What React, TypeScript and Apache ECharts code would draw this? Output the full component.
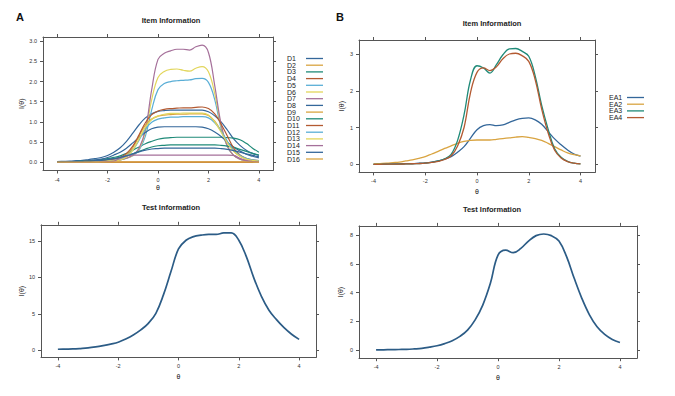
import React, { useEffect, useRef } from "react";
import * as echarts from "echarts";

// theta grid shared by all curves
const thetas = [-4, -3.75, -3.5, -3.25, -3, -2.75, -2.5, -2.25, -2, -1.75, -1.5, -1.25, -1, -0.75, -0.5, -0.25, 0, 0.25, 0.5, 0.75, 1, 1.25, 1.5, 1.75, 2, 2.25, 2.5, 2.75, 3, 3.25, 3.5, 3.75, 4];

const xTicks = [-4, -2, 0, 2, 4];
const yTicksA1 = [0, 0.5, 1, 1.5, 2, 2.5, 3];
const yTicksB1 = [0, 1, 2, 3];
const yTicksA2 = [0, 5, 10, 15];
const yTicksB2 = [0, 2, 4, 6, 8];

// Panel A – item information (D1..D16)
const D1 = [0.02, 0.025, 0.03, 0.04, 0.05, 0.07, 0.09, 0.12, 0.17, 0.25, 0.36, 0.52, 0.72, 0.93, 1.1, 1.2, 1.26, 1.28, 1.29, 1.29, 1.29, 1.29, 1.29, 1.29, 1.25, 1.15, 1.0, 0.8, 0.58, 0.42, 0.3, 0.22, 0.17];
const D2 = [0.01, 0.01, 0.01, 0.01, 0.01, 0.01, 0.01, 0.01, 0.01, 0.01, 0.01, 0.01, 0.01, 0.01, 0.01, 0.01, 0.01, 0.01, 0.01, 0.01, 0.01, 0.01, 0.01, 0.01, 0.01, 0.01, 0.01, 0.01, 0.01, 0.01, 0.01, 0.01, 0.01];
const D3 = [0.01, 0.012, 0.015, 0.02, 0.03, 0.035, 0.05, 0.07, 0.09, 0.12, 0.16, 0.22, 0.3, 0.38, 0.46, 0.52, 0.57, 0.6, 0.61, 0.62, 0.62, 0.62, 0.62, 0.62, 0.62, 0.62, 0.62, 0.61, 0.6, 0.56, 0.47, 0.35, 0.25];
const D4 = [0, 0, 0, 0, 0, 0, 0, 0, 0, 0, 0, 0, 0, 0, 0, 0, 0, 0, 0, 0, 0, 0, 0, 0, 0, 0, 0, 0, 0, 0, 0, 0, 0];
const D5 = [0, 0, 0, 0, 0.005, 0.01, 0.01, 0.02, 0.03, 0.04, 0.06, 0.1, 0.16, 0.3, 0.65, 1.3, 1.8, 1.95, 2.0, 2.02, 2.03, 2.04, 2.07, 2.08, 1.98, 1.55, 0.85, 0.4, 0.17, 0.08, 0.04, 0.02, 0.01];
const D6 = [0, 0, 0, 0, 0.005, 0.01, 0.01, 0.02, 0.03, 0.04, 0.06, 0.1, 0.17, 0.33, 0.75, 1.55, 2.1, 2.25, 2.3, 2.31, 2.28, 2.26, 2.33, 2.37, 2.24, 1.7, 0.9, 0.4, 0.17, 0.08, 0.04, 0.02, 0.01];
const D7 = [0, 0, 0, 0, 0.005, 0.01, 0.01, 0.02, 0.03, 0.04, 0.06, 0.1, 0.18, 0.35, 0.8, 1.8, 2.55, 2.7, 2.76, 2.8, 2.8, 2.78, 2.86, 2.9, 2.72, 1.9, 0.95, 0.4, 0.17, 0.08, 0.04, 0.02, 0.01];
const D8 = [0.01, 0.012, 0.015, 0.02, 0.03, 0.04, 0.06, 0.08, 0.12, 0.18, 0.25, 0.35, 0.48, 0.62, 0.74, 0.83, 0.87, 0.88, 0.88, 0.88, 0.88, 0.88, 0.88, 0.87, 0.83, 0.75, 0.64, 0.5, 0.38, 0.28, 0.2, 0.15, 0.11];
const D9 = [0, 0, 0, 0.005, 0.01, 0.01, 0.015, 0.02, 0.03, 0.05, 0.09, 0.18, 0.36, 0.65, 0.92, 1.07, 1.14, 1.17, 1.18, 1.19, 1.19, 1.2, 1.2, 1.2, 1.16, 1.02, 0.78, 0.5, 0.28, 0.15, 0.08, 0.05, 0.03];
const D10 = [0.01, 0.012, 0.015, 0.02, 0.025, 0.03, 0.04, 0.05, 0.07, 0.09, 0.12, 0.16, 0.21, 0.27, 0.33, 0.38, 0.41, 0.42, 0.43, 0.43, 0.43, 0.43, 0.43, 0.43, 0.43, 0.43, 0.42, 0.4, 0.37, 0.32, 0.27, 0.22, 0.18];
const D11 = [0.01, 0.01, 0.01, 0.015, 0.02, 0.025, 0.03, 0.04, 0.05, 0.08, 0.12, 0.22, 0.4, 0.68, 0.98, 1.18, 1.27, 1.31, 1.33, 1.34, 1.35, 1.35, 1.36, 1.37, 1.33, 1.2, 0.95, 0.65, 0.35, 0.18, 0.1, 0.06, 0.04];
const D12 = [0, 0, 0, 0.005, 0.01, 0.01, 0.015, 0.02, 0.03, 0.05, 0.08, 0.15, 0.3, 0.55, 0.82, 0.99, 1.07, 1.1, 1.12, 1.12, 1.13, 1.13, 1.13, 1.13, 1.1, 0.98, 0.78, 0.52, 0.3, 0.17, 0.1, 0.06, 0.04];
const D13 = [0, 0, 0, 0, 0.005, 0.01, 0.01, 0.02, 0.03, 0.04, 0.06, 0.13, 0.3, 0.58, 0.87, 1.06, 1.15, 1.19, 1.21, 1.21, 1.22, 1.22, 1.22, 1.22, 1.17, 1.0, 0.75, 0.48, 0.27, 0.15, 0.08, 0.05, 0.03];
const D14 = [0, 0, 0, 0, 0, 0, 0.005, 0.01, 0.015, 0.03, 0.1, 0.16, 0.18, 0.18, 0.18, 0.18, 0.18, 0.18, 0.18, 0.18, 0.18, 0.18, 0.18, 0.18, 0.18, 0.18, 0.18, 0.18, 0.17, 0.1, 0.04, 0.02, 0.01];
const D15 = [0.01, 0.012, 0.015, 0.02, 0.025, 0.03, 0.04, 0.05, 0.07, 0.09, 0.12, 0.16, 0.21, 0.26, 0.3, 0.33, 0.34, 0.35, 0.35, 0.35, 0.35, 0.35, 0.35, 0.35, 0.35, 0.35, 0.34, 0.32, 0.29, 0.25, 0.21, 0.17, 0.14];
const D16 = [0.005, 0.005, 0.005, 0.005, 0.005, 0.005, 0.005, 0.005, 0.005, 0.005, 0.005, 0.005, 0.005, 0.005, 0.005, 0.005, 0.005, 0.005, 0.005, 0.005, 0.005, 0.005, 0.005, 0.005, 0.005, 0.005, 0.005, 0.005, 0.005, 0.005, 0.005, 0.005, 0.005];

// Panel B – item information (EA1..EA4)
const EA1 = [0, 0.005, 0.008, 0.01, 0.012, 0.016, 0.02, 0.03, 0.04, 0.06, 0.09, 0.14, 0.21, 0.33, 0.48, 0.71, 0.94, 1.05, 1.08, 1.05, 1.07, 1.14, 1.21, 1.25, 1.26, 1.21, 1.09, 0.89, 0.69, 0.53, 0.39, 0.28, 0.22];
const EA2 = [0.01, 0.02, 0.03, 0.045, 0.06, 0.09, 0.12, 0.16, 0.21, 0.28, 0.35, 0.43, 0.5, 0.57, 0.62, 0.65, 0.66, 0.66, 0.66, 0.68, 0.7, 0.72, 0.74, 0.75, 0.73, 0.7, 0.65, 0.57, 0.48, 0.39, 0.31, 0.26, 0.23];
const EA3 = [0, 0, 0.003, 0.004, 0.005, 0.01, 0.015, 0.02, 0.03, 0.05, 0.09, 0.15, 0.27, 0.65, 1.35, 2.3, 2.68, 2.62, 2.48, 2.71, 2.98, 3.14, 3.15, 3.07, 2.94, 2.4, 1.6, 0.95, 0.42, 0.19, 0.08, 0.03, 0.01];
const EA4 = [0, 0, 0.003, 0.004, 0.005, 0.01, 0.015, 0.02, 0.03, 0.05, 0.08, 0.13, 0.23, 0.5, 1.0, 1.95, 2.5, 2.62, 2.55, 2.65, 2.87, 3.0, 3.02, 2.95, 2.8, 2.3, 1.5, 0.85, 0.38, 0.17, 0.07, 0.03, 0.01];

// Test information
const testA = [0.14, 0.16, 0.18, 0.24, 0.32, 0.46, 0.64, 0.85, 1.1, 1.55, 2.1, 2.8, 3.7, 5.07, 7.6, 10.8, 13.9, 15.1, 15.6, 15.8, 15.9, 15.9, 16.1, 16.1, 15.1, 12.85, 9.9, 7.4, 5.5, 4.2, 3.1, 2.2, 1.5];
const testB = [0.01, 0.02, 0.03, 0.04, 0.05, 0.08, 0.12, 0.2, 0.3, 0.45, 0.65, 0.95, 1.39, 2.1, 3.13, 4.64, 6.6, 6.95, 6.77, 7.07, 7.58, 7.96, 8.07, 7.96, 7.58, 6.5, 4.99, 3.6, 2.45, 1.62, 1.09, 0.74, 0.53];

const itemNamesA = ["D1", "D2", "D3", "D4", "D5", "D6", "D7", "D8", "D9", "D10", "D11", "D12", "D13", "D14", "D15", "D16"];
const itemValuesA = [D1, D2, D3, D4, D5, D6, D7, D8, D9, D10, D11, D12, D13, D14, D15, D16];
const itemNamesB = ["EA1", "EA2", "EA3", "EA4"];
const itemValuesB = [EA1, EA2, EA3, EA4];

const palette = ["#34679A", "#D9A441", "#1F8A78", "#B35A32", "#5AAED6", "#E2D65C", "#A5709A"];
const testColor = "#2C5C86";
const FONT = "'Liberation Sans', Arial, sans-serif";

export default function App() {
  const ref = useRef<HTMLDivElement>(null);
  useEffect(() => {
    if (!ref.current) return;
    const chart = echarts.init(ref.current, null, { renderer: "svg" });

    const grids = [
      { left: 43, top: 37, width: 230, height: 133.5 },
      { left: 359, top: 40, width: 236, height: 132.4 },
      { left: 41, top: 224.8, width: 275, height: 132.6 },
      { left: 359, top: 225.9, width: 278, height: 132.3 },
    ];
    const yRanges = [
      { min: -0.203, max: 3.103, ticks: yTicksA1, fmt: (v: number) => v.toFixed(1), gap: 18 },
      { min: -0.221, max: 3.381, ticks: yTicksB1, fmt: (v: number) => String(v), gap: 14 },
      { min: -0.977, max: 17.22, ticks: yTicksA2, fmt: (v: number) => String(v), gap: 16.5 },
      { min: -0.565, max: 8.635, ticks: yTicksB2, fmt: (v: number) => String(v), gap: 15 },
    ];
    const xNameGaps = [13.5, 15.5, 16, 15.5];
    const axisColor = "#555";

    const xAxis: any[] = [];
    const yAxis: any[] = [];
    grids.forEach((g, i) => {
      ["bottom", "top"].forEach((pos) => {
        xAxis.push({
          type: "value",
          gridIndex: i,
          position: pos,
          min: -4.56,
          max: 4.56,
          splitLine: { show: false },
          axisLine: { show: true, onZero: false, lineStyle: { color: axisColor, width: 1 } },
          axisTick: { show: true, inside: false, length: 3, customValues: xTicks, lineStyle: { color: axisColor } },
          axisLabel: { show: pos === "bottom", customValues: xTicks, fontSize: 5.5, margin: 6, color: "#333", fontFamily: FONT },
          name: pos === "bottom" ? "θ" : "",
          nameLocation: "middle",
          nameGap: xNameGaps[i],
          nameTextStyle: { fontSize: 7, color: "#222", fontFamily: FONT },
        });
      });
      const yr = yRanges[i];
      ["left", "right"].forEach((pos) => {
        yAxis.push({
          type: "value",
          gridIndex: i,
          position: pos,
          min: yr.min,
          max: yr.max,
          splitLine: { show: false },
          axisLine: { show: true, onZero: false, lineStyle: { color: axisColor, width: 1 } },
          axisTick: { show: true, inside: false, length: 3, customValues: yr.ticks, lineStyle: { color: axisColor } },
          axisLabel: { show: pos === "left", customValues: yr.ticks, formatter: yr.fmt, fontSize: 5.5, margin: 6, color: "#333", fontFamily: FONT },
          name: pos === "left" ? "I(θ)" : "",
          nameLocation: "middle",
          nameGap: yr.gap,
          nameRotate: 90,
          nameTextStyle: { fontSize: 7, color: "#222", fontFamily: FONT },
        });
      });
    });

    const mk = (name: string, vals: number[], color: string, gi: number, width: number) => ({
      type: "line",
      name,
      data: thetas.map((t, k) => [t, vals[k]]),
      xAxisIndex: gi * 2,
      yAxisIndex: gi * 2,
      color,
      lineStyle: { width, color },
      showSymbol: false,
      symbol: "none",
      smooth: 0.4,
      silent: true,
    });

    const series: any[] = [];
    itemNamesA.forEach((n, i) => series.push(mk(n, itemValuesA[i], palette[i % 7], 0, 1.2)));
    itemNamesB.forEach((n, i) => series.push(mk(n, itemValuesB[i], palette[i % 7], 1, 1.3)));
    series.push(mk("testA", testA, testColor, 2, 1.7));
    series.push(mk("testB", testB, testColor, 3, 1.7));

    const titleStyle = { fontSize: 7.5, fontWeight: "bold", color: "#222", fontFamily: FONT };
    const legendCommon = {
      orient: "vertical",
      align: "right",
      icon: "rect",
      itemWidth: 17,
      itemHeight: 1.3,
      selectedMode: false,
      padding: 0,
      textStyle: { fontSize: 7, color: "#222", fontFamily: FONT, lineHeight: 6.7 },
    };

    chart.setOption({
      animation: false,
      backgroundColor: "#ffffff",
      title: [
        { text: "A", left: 16, top: 11, padding: 0, textStyle: { fontSize: 11, fontWeight: "bold", color: "#111", fontFamily: FONT } },
        { text: "B", left: 336, top: 11, padding: 0, textStyle: { fontSize: 11, fontWeight: "bold", color: "#111", fontFamily: FONT } },
        { text: "Item Information", left: 171, top: 16, padding: 0, textAlign: "center", textStyle: titleStyle },
        { text: "Item Information", left: 492, top: 19.5, padding: 0, textAlign: "center", textStyle: titleStyle },
        { text: "Test Information", left: 171, top: 203, padding: 0, textAlign: "center", textStyle: titleStyle },
        { text: "Test Information", left: 492, top: 205, padding: 0, textAlign: "center", textStyle: titleStyle },
      ],
      legend: [
        {
          ...legendCommon,
          left: 287,
          top: 55,
          itemGap: -0.3,
          data: itemNamesA,
          formatter: (n: string) => `{a|${n}}`,
          textStyle: { ...legendCommon.textStyle, rich: { a: { width: 14, align: "left", fontSize: 7, lineHeight: 6.7, fontFamily: FONT, color: "#222" } } },
        },
        {
          ...legendCommon,
          left: 609,
          top: 94,
          itemGap: -0.3,
          data: itemNamesB,
          formatter: (n: string) => `{a|${n}}`,
          textStyle: { ...legendCommon.textStyle, rich: { a: { width: 13, align: "left", fontSize: 7, lineHeight: 6.7, fontFamily: FONT, color: "#222" } } },
        },
      ],
      grid: grids,
      xAxis,
      yAxis,
      series,
    });
    return () => chart.dispose();
  }, []);
  return <div ref={ref} style={{ position: "fixed", left: 0, top: 0, width: 675, height: 396, background: "#fff" }} />;
}
